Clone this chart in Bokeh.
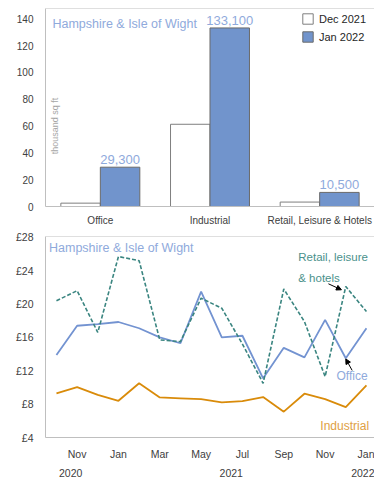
import math
from bokeh.plotting import figure
from bokeh.models import (ColumnDataSource, FactorRange, Range1d, Legend, LegendItem,
                          Label, Span, FixedTicker, Arrow, NormalHead, LinearAxis)
from bokeh.transform import dodge
from bokeh.layouts import column
from bokeh.embed import file_html
from bokeh.resources import INLINE
from bokeh.core.properties import value

# ---------------- data ----------------
categories = ["Office", "Industrial", "Retail, Leisure & Hotels"]
dec_2021 = [2.5, 61.3, 3.3]
jan_2022 = [29.3, 133.1, 10.5]
jan_labels = ["29,300", "133,100", "10,500"]
bar_ticks = [0, 20, 40, 60, 80, 100, 120, 140]

months = ["Oct", "Nov", "Dec", "Jan", "Feb", "Mar", "Apr", "May", "Jun", "Jul",
          "Aug", "Sep", "Oct", "Nov", "Dec", "Jan"]
office = [13.9, 17.4, 17.6, 17.85, 17.1, 16.0, 15.3, 21.5, 16.0, 16.2,
          11.1, 14.75, 13.6, 18.1, 13.5, 17.1]
industrial = [9.3, 10.05, 9.1, 8.4, 10.5, 8.8, 8.7, 8.6, 8.2, 8.35,
              8.85, 7.1, 9.25, 8.6, 7.65, 10.25]
retail = [20.4, 21.6, 16.6, 25.7, 25.2, 15.7, 15.5, 20.7, 19.5, 15.2,
          10.5, 21.8, 17.9, 11.3, 22.1, 19.1]
price_ticks = [4, 8, 12, 16, 20, 24, 28]
year_labels = ["2020", "2021", "2022"]
year_pos = [0.69, 8.46, 15.35]

FONT = "Liberation Sans"
TICK_COLOR = "#404040"
AXIS_COLOR = "#BFBFBF"
TITLE_COLOR = "#8FAADC"

# ---------------- top: bar chart ----------------
src = ColumnDataSource(dict(cat=categories, dec=dec_2021, jan=jan_2022, lab=jan_labels))

p1 = figure(x_range=FactorRange(*categories, range_padding=0), y_range=Range1d(0, 147.6),
            width=374, height=228, output_backend="svg", toolbar_location=None,
            min_border_left=42, min_border_right=0, min_border_top=8, min_border_bottom=20)
p1.outline_line_color = None
p1.background_fill_color = "white"
p1.border_fill_color = "white"

r_dec = p1.vbar(x=dodge("cat", -0.18, range=p1.x_range), top="dec", width=0.36, source=src,
                fill_color="white", line_color="#7F7F7F", line_width=1)
r_jan = p1.vbar(x=dodge("cat", 0.18, range=p1.x_range), top="jan", width=0.36, source=src,
                fill_color="#7194CC", line_color="#6A6A6A", line_width=1)
p1.text(x=dodge("cat", 0.18, range=p1.x_range), y="jan", text="lab", source=src,
        text_align="center", text_baseline="bottom", y_offset=-3,
        text_font=value(FONT), text_font_size="13px", text_color=TITLE_COLOR)

p1.xgrid.visible = False
p1.ygrid.visible = False
for ax in (p1.xaxis[0], p1.yaxis[0]):
    ax.axis_line_color = AXIS_COLOR
    ax.major_tick_line_color = None
    ax.minor_tick_line_color = None
    ax.major_label_text_font = FONT
    ax.major_label_text_font_size = "10px"
    ax.major_label_text_color = TICK_COLOR
p1.xaxis.major_label_standoff = 2
p1.yaxis.major_label_standoff = 6
p1.yaxis.ticker = FixedTicker(ticks=bar_ticks)
p1.add_layout(Span(location=147.6, dimension="width", line_color=AXIS_COLOR, line_width=1))

p1.add_layout(Label(x=0.063, y=135.8, text="Hampshire & Isle of Wight", text_font=FONT,
                    text_font_size="12.5px", text_color=TITLE_COLOR, text_baseline="middle"))
p1.add_layout(Label(x=0.09, y=60, text="thousand sq ft", angle=math.pi / 2, text_font=FONT,
                    text_font_size="9px", text_color="#A6A6A6", text_align="center",
                    text_baseline="middle"))

legend = Legend(items=[LegendItem(label="Dec 2021", renderers=[r_dec]),
                       LegendItem(label="Jan 2022", renderers=[r_jan])],
                location=(256, 163), glyph_width=13, glyph_height=13, label_height=13,
                spacing=5, padding=0, margin=0, label_standoff=5,
                label_text_font=FONT, label_text_font_size="11px", label_text_color="#262626",
                border_line_color=None, background_fill_alpha=0)
p1.add_layout(legend, "center")

# ---------------- bottom: line chart ----------------
idx = list(range(len(months)))
lsrc = ColumnDataSource(dict(x=idx, office=office, industrial=industrial, retail=retail))

p2 = figure(x_range=Range1d(-0.53, 15.39), y_range=Range1d(4, 28.1),
            width=374, height=253, output_backend="svg", toolbar_location=None,
            min_border_left=45, min_border_right=0, min_border_top=8, min_border_bottom=44)
p2.outline_line_color = None
p2.xgrid.visible = False
p2.ygrid.visible = False

p2.line("x", "industrial", source=lsrc, line_color="#D98B0A", line_width=1.8)
p2.line("x", "office", source=lsrc, line_color="#7393D1", line_width=1.8)
p2.line("x", "retail", source=lsrc, line_color="#3A8580", line_width=1.6, line_dash="4 2")

for ax in (p2.xaxis[0], p2.yaxis[0]):
    ax.axis_line_color = AXIS_COLOR
    ax.major_tick_line_color = None
    ax.minor_tick_line_color = None
    ax.major_label_text_font = FONT
    ax.major_label_text_font_size = "10.5px"
    ax.major_label_text_color = TICK_COLOR
p2.yaxis.ticker = FixedTicker(ticks=price_ticks)
p2.yaxis.major_label_overrides = {t: "£%d" % t for t in price_ticks}
p2.yaxis.major_label_standoff = 6
xt = idx[1::2]
p2.xaxis.ticker = FixedTicker(ticks=xt)
p2.xaxis.major_label_overrides = {i: months[i] for i in xt}
p2.xaxis.major_label_standoff = 4

year_axis = LinearAxis(ticker=FixedTicker(ticks=year_pos),
                       major_label_overrides={p: t for p, t in zip(year_pos, year_labels)},
                       axis_line_color=None, major_tick_line_color=None,
                       minor_tick_line_color=None, major_label_standoff=0,
                       major_label_text_font=FONT, major_label_text_font_size="10.5px",
                       major_label_text_color=TICK_COLOR)
p2.add_layout(year_axis, "below")
p2.add_layout(Span(location=28.1, dimension="width", line_color=AXIS_COLOR, line_width=1))

p2.add_layout(Label(x=-0.36, y=26.75, text="Hampshire & Isle of Wight", text_font=FONT,
                    text_font_size="12.5px", text_color=TITLE_COLOR, text_baseline="middle"))
p2.add_layout(Label(x=11.70, y=25.67, text="Retail, leisure", text_font=FONT,
                    text_font_size="11.5px", text_color="#4A918B", text_baseline="middle"))
p2.add_layout(Label(x=11.70, y=23.15, text="& hotels", text_font=FONT,
                    text_font_size="11.5px", text_color="#4A918B", text_baseline="middle"))
p2.add_layout(Label(x=13.55, y=11.38, text="Office", text_font=FONT,
                    text_font_size="12px", text_color=TITLE_COLOR, text_baseline="middle"))
p2.add_layout(Label(x=12.77, y=5.38, text="Industrial", text_font=FONT,
                    text_font_size="12px", text_color="#E0A043", text_baseline="middle"))
p2.add_layout(Arrow(x_start=13.16, y_start=22.43, x_end=13.79, y_end=21.71,
                    line_color="black", line_width=1,
                    end=NormalHead(size=5, fill_color="black", line_color="black")))
p2.add_layout(Arrow(x_start=14.31, y_start=12.04, x_end=14.0, y_end=13.42,
                    line_color="black", line_width=1,
                    end=NormalHead(size=5, fill_color="black", line_color="black")))

layout = column(p1, p2, spacing=0)
open("out.html", "w").write(file_html(layout, INLINE))
